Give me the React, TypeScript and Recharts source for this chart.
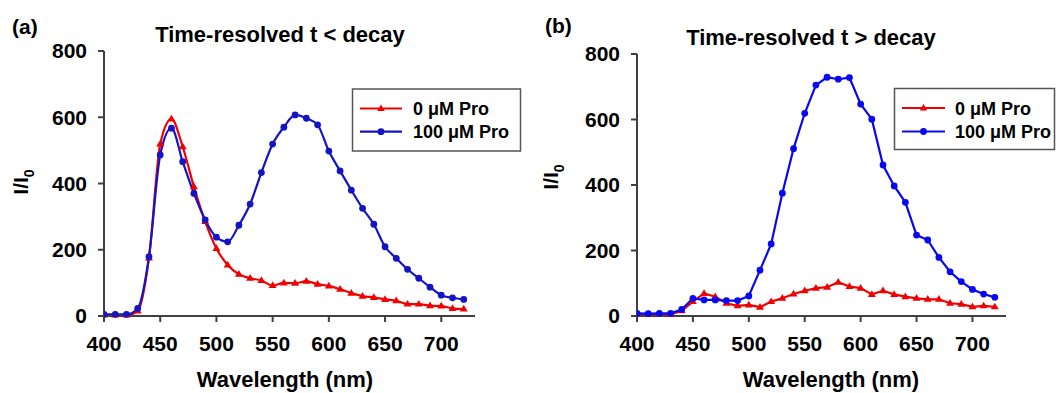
import React from 'react';
import { LineChart, Line, XAxis, YAxis } from 'recharts';

const wavelengths = [400, 410, 420, 430, 440, 450, 460, 470, 480, 490, 500, 510, 520, 530, 540, 550, 560, 570, 580, 590, 600, 610, 620, 630, 640, 650, 660, 670, 680, 690, 700, 710, 720];

// Panel (a): Time-resolved t < decay
const aRed = [3, 3, 3, 15, 175, 519, 595, 511, 390, 285, 204, 154, 126, 114, 107, 92, 100, 99, 105, 96, 91, 81, 69, 60, 56, 50, 46, 36, 36, 31, 30, 23, 21];
const aBlue = [5, 5, 5, 23, 179, 486, 567, 466, 370, 290, 238, 224, 274, 338, 433, 519, 570, 607, 597, 577, 498, 438, 380, 325, 277, 209, 174, 141, 114, 87, 63, 55, 50];

// Panel (b): Time-resolved t > decay
const bRed = [6, 5, 6, 5, 16, 44, 69, 59, 39, 31, 34, 27, 44, 54, 67, 77, 85, 88, 103, 90, 85, 66, 77, 66, 59, 54, 51, 51, 39, 36, 28, 31, 28];
const bBlue = [8, 7, 8, 8, 20, 54, 49, 49, 47, 47, 61, 140, 220, 375, 511, 619, 705, 729, 723, 728, 647, 601, 461, 397, 347, 247, 232, 179, 135, 105, 81, 67, 57];

const xTicks = [400, 450, 500, 550, 600, 650, 700];
const yTicks = [0, 200, 400, 600, 800];
const seriesNames = ['0 \u03bcM Pro', '100 \u03bcM Pro'];

const dataA = wavelengths.map((w, i) => ({ w, red: aRed[i], blue: aBlue[i] }));
const dataB = wavelengths.map((w, i) => ({ w, red: bRed[i], blue: bBlue[i] }));

const FONT = '"Liberation Sans", Arial, Helvetica, sans-serif';
const AXIS = '#404040';

const tickStyle = { fill: '#000', fontSize: 21, fontWeight: 700, fontFamily: FONT };

const triPts = (cx: number, cy: number, s: number) =>
  `${cx},${cy - s} ${cx - s * 0.95},${cy + s * 0.6} ${cx + s * 0.95},${cy + s * 0.6}`;

const makeTri = (color: string) => (props: any) => {
  const { cx, cy, index } = props;
  if (cx == null || cy == null) return <g key={`t${index}`} />;
  return <polygon key={`t${index}`} points={triPts(cx, cy, 4.2)} fill={color} stroke="none" />;
};

const makeDot = (color: string) => (props: any) => {
  const { cx, cy, index } = props;
  if (cx == null || cy == null) return <g key={`d${index}`} />;
  return <circle key={`d${index}`} cx={cx} cy={cy} r={3.4} fill={color} stroke="none" />;
};

type PanelProps = {
  data: any[];
  margin: { top: number; right: number; bottom: number; left: number };
  red: string;
  blue: string;
  curve: 'monotone' | 'linear';
};

function Panel({ data, margin, red, blue, curve }: PanelProps) {
  return (
    <LineChart width={528} height={393} data={data} margin={margin}>
      <XAxis
        dataKey="w"
        type="number"
        domain={[400, 730]}
        ticks={xTicks}
        interval={0}
        allowDataOverflow
        height={30}
        tickSize={6}
        tickMargin={14}
        tick={tickStyle}
        axisLine={{ stroke: AXIS, strokeWidth: 2 }}
        tickLine={{ stroke: AXIS, strokeWidth: 2 }}
      />
      <YAxis
        type="number"
        domain={[0, 800]}
        ticks={yTicks}
        interval={0}
        width={60}
        tickSize={6}
        tickMargin={11}
        tick={tickStyle}
        axisLine={{ stroke: AXIS, strokeWidth: 2 }}
        tickLine={{ stroke: AXIS, strokeWidth: 2 }}
      />
      <Line
        dataKey="red"
        type={curve}
        stroke={red}
        strokeWidth={2.2}
        dot={makeTri(red)}
        activeDot={false}
        isAnimationActive={false}
      />
      <Line
        dataKey="blue"
        type={curve}
        stroke={blue}
        strokeWidth={2.2}
        dot={makeDot(blue)}
        activeDot={false}
        isAnimationActive={false}
      />
    </LineChart>
  );
}

function LegendBox({ x, y, w, h, lx1, lx2, tx, r1, r2, red, blue }: any) {
  const mx = (lx1 + lx2) / 2;
  return (
    <g>
      <rect x={x} y={y} width={w} height={h} fill="#fff" stroke="#555" strokeWidth={1.5} />
      <line x1={lx1} x2={lx2} y1={r1} y2={r1} stroke={red} strokeWidth={2.2} />
      <polygon points={triPts(mx, r1, 4)} fill={red} />
      <text x={tx} y={r1 + 6.5} fontSize={18} fontWeight={700} fontFamily={FONT} fill="#000">{seriesNames[0]}</text>
      <line x1={lx1} x2={lx2} y1={r2} y2={r2} stroke={blue} strokeWidth={2.2} />
      <circle cx={mx} cy={r2} r={3.4} fill={blue} />
      <text x={tx} y={r2 + 6.5} fontSize={18} fontWeight={700} fontFamily={FONT} fill="#000">{seriesNames[1]}</text>
    </g>
  );
}

export default function App() {
  const redA = '#F00000';
  const blueA = '#1414C4';
  const redB = '#F00000';
  const blueB = '#0808EE';
  const txt = { fontFamily: FONT, fontWeight: 700, fill: '#000' } as const;
  return (
    <div style={{ position: 'absolute', left: 0, top: 0, width: 1056, height: 393, background: '#fff', overflow: 'hidden' }}>
      <div style={{ position: 'absolute', left: 0, top: 0 }}>
        <Panel data={dataA} margin={{ top: 51, right: 53, bottom: 47, left: 44 }} red={redA} blue={blueA} curve="monotone" />
      </div>
      <div style={{ position: 'absolute', left: 528, top: 0 }}>
        <Panel data={dataB} margin={{ top: 54, right: 50, bottom: 47, left: 49 }} red={redB} blue={blueB} curve="linear" />
      </div>
      <svg width={1056} height={393} style={{ position: 'absolute', left: 0, top: 0, pointerEvents: 'none' }}>
        <text x={12} y={34} fontSize={21} {...txt}>(a)</text>
        <text x={545} y={33} fontSize={21} {...txt}>(b)</text>
        <text x={280} y={42} fontSize={22} textAnchor="middle" {...txt}>Time-resolved t &lt; decay</text>
        <text x={811} y={44.5} fontSize={22} textAnchor="middle" {...txt}>Time-resolved t &gt; decay</text>
        <text x={285} y={387} fontSize={22} textAnchor="middle" {...txt}>Wavelength (nm)</text>
        <text x={831} y={387} fontSize={22} textAnchor="middle" {...txt}>Wavelength (nm)</text>
        <text transform="translate(28,182) rotate(-90)" fontSize={21} textAnchor="middle" {...txt}>
          I/I<tspan fontSize={14} dy={6}>0</tspan>
        </text>
        <text transform="translate(558,177) rotate(-90)" fontSize={21} textAnchor="middle" {...txt}>
          I/I<tspan fontSize={14} dy={6}>0</tspan>
        </text>
        <LegendBox x={352.5} y={89} w={168} h={62} lx1={360} lx2={402} tx={413} r1={108.5} r2={131.7} red={redA} blue={blueA} />
        <LegendBox x={894.5} y={88.5} w={160} h={61} lx1={902} lx2={945} tx={955} r1={108} r2={131.5} red={redB} blue={blueB} />
      </svg>
    </div>
  );
}
